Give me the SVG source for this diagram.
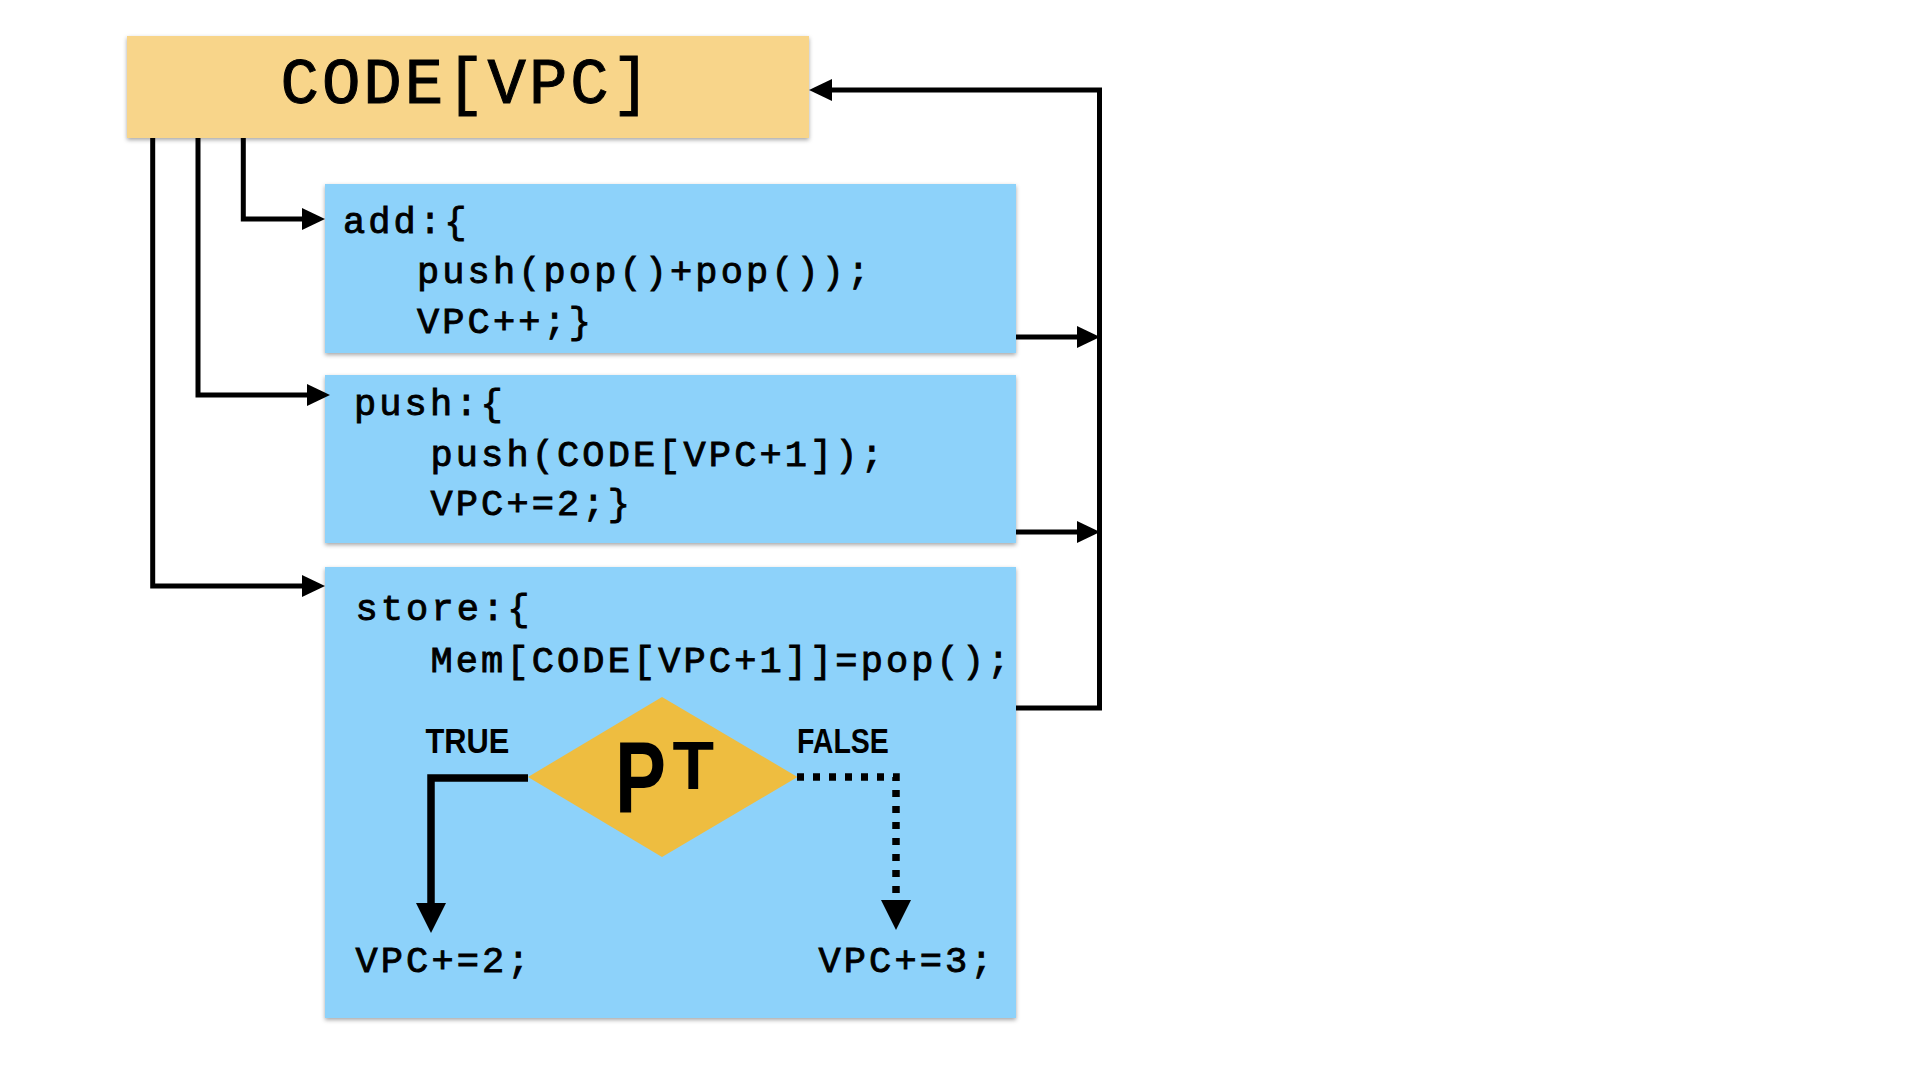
<svg xmlns="http://www.w3.org/2000/svg" width="1920" height="1080" viewBox="0 0 1920 1080">
<defs>
<filter id="sh" x="-5%" y="-5%" width="110%" height="115%">
<feDropShadow dx="0" dy="2" stdDeviation="2" flood-color="#000" flood-opacity="0.35"/>
</filter>
<marker id="ah" markerUnits="userSpaceOnUse" markerWidth="24" markerHeight="22" refX="0" refY="11" orient="auto" overflow="visible">
<path d="M0,0 L23,11 L0,22 Z" fill="#000"/>
</marker>
<marker id="ahb" markerUnits="userSpaceOnUse" markerWidth="30" markerHeight="30" refX="0" refY="15" orient="auto" overflow="visible">
<path d="M0,0 L30,15 L0,30 Z" fill="#000"/>
</marker>
</defs>
<style>
.ybox{fill:#F8D58A;filter:url(#sh);}
.bbox{fill:#8DD2FA;filter:url(#sh);}
.code{font-family:"Liberation Mono","DejaVu Sans Mono",monospace;font-size:37px;letter-spacing:3.1px;fill:#000;stroke:#000;stroke-width:0.9;}
.title{font-family:"Liberation Mono","DejaVu Sans Mono",monospace;font-size:64px;letter-spacing:3px;fill:#000;stroke:#000;stroke-width:1;}
.lbl{font-family:"Liberation Sans",Arial,sans-serif;font-weight:bold;fill:#000;}
.conn{fill:none;stroke:#000;stroke-width:5;stroke-linejoin:miter;}
.thick{fill:none;stroke:#000;stroke-width:7.5;stroke-linejoin:miter;}
</style>
<rect width="1920" height="1080" fill="#fff"/>

<g id="node-code">
<rect class="ybox" x="127" y="36" width="682" height="102"/>
<text class="title" x="280.5" y="103">CODE[VPC]</text>
</g>

<g id="node-add">
<rect class="bbox" x="325" y="184" width="691" height="169"/>
<text class="code" x="343" y="233">add:{</text>
<text class="code" x="417" y="283">push(pop()+pop());</text>
<text class="code" x="417" y="333">VPC++;}</text>
</g>

<g id="node-push">
<rect class="bbox" x="325" y="375" width="691" height="168"/>
<text class="code" x="354" y="415">push:{</text>
<text class="code" x="430.5" y="466">push(CODE[VPC+1]);</text>
<text class="code" x="430.5" y="515">VPC+=2;}</text>
</g>

<g id="node-store">
<rect class="bbox" x="325" y="567" width="691" height="451"/>
<text class="code" x="355.5" y="620">store:{</text>
<text class="code" x="430.5" y="672">Mem[CODE[VPC+1]]=pop();</text>
<text class="code" x="355.5" y="972">VPC+=2;</text>
<text class="code" x="818.5" y="972">VPC+=3;</text>
</g>

<g id="node-pt">
<polygon points="662,697 797.5,777 662,857 528,777" fill="#EEBD40"/>
<text class="lbl" font-size="102" transform="translate(615,813) scale(0.75 1)">P</text>
<text class="lbl" font-size="68" x="672.5" y="789">T</text>
</g>

<g id="labels">
<text class="lbl" font-size="35" transform="translate(425.5,753) scale(0.88 1)">TRUE</text>
<text class="lbl" font-size="35" transform="translate(797,753) scale(0.815 1)">FALSE</text>
</g>

<g id="connectors">
<path class="conn" d="M243.3,138 L243.3,219 L302,219" marker-end="url(#ah)"/>
<path class="conn" d="M198,138 L198,395 L307,395" marker-end="url(#ah)"/>
<path class="conn" d="M152.7,138 L152.7,586 L302,586" marker-end="url(#ah)"/>
<path class="conn" d="M1016,337 L1077,337" marker-end="url(#ah)"/>
<path class="conn" d="M1016,532 L1077,532" marker-end="url(#ah)"/>
<path class="conn" d="M1016,708 L1099.5,708 L1099.5,90 L832,90" marker-end="url(#ah)"/>
<path class="thick" d="M528,778 L431,778 L431,903" marker-end="url(#ahb)"/>
<path class="thick" d="M797,777 L896,777 L896,900" stroke-dasharray="7 9" marker-end="url(#ahb)"/>
</g>
</svg>
